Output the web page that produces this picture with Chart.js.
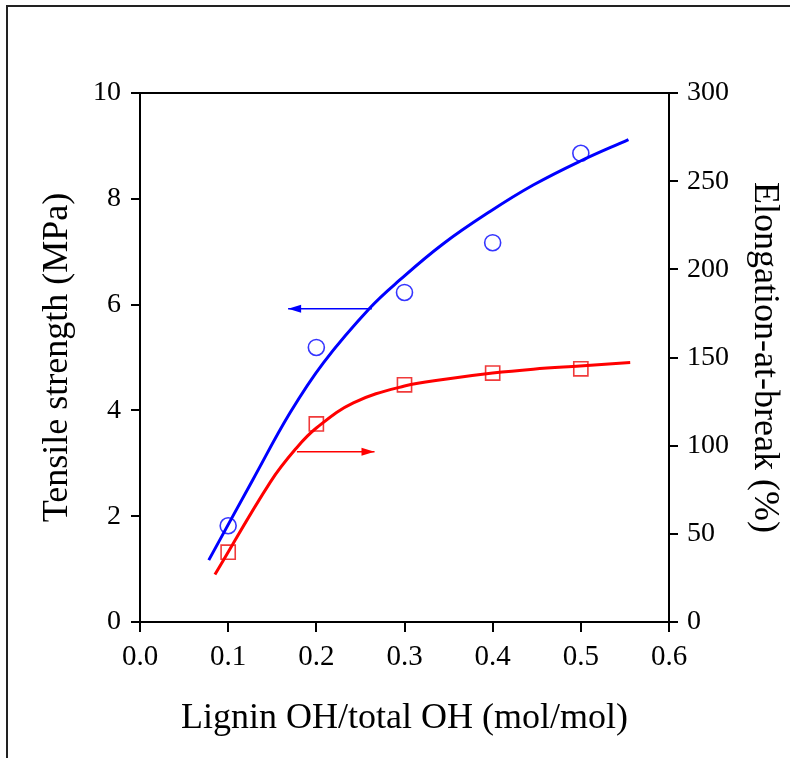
<!DOCTYPE html>
<html>
<head>
<meta charset="utf-8">
<title>Tensile strength and elongation vs lignin OH</title>
<script src="https://cdn.jsdelivr.net/npm/chart.js@4.4.1/dist/chart.umd.min.js"></script>
<style>
  html, body { margin: 0; padding: 0; background: #fff; }
  #wrap { width: 790px; height: 758px; }
</style>
</head>
<body>
<div id="wrap"><canvas id="strengthChart" width="790" height="758"></canvas></div>
<script>
// measured samples
const ratio = [0.1, 0.2, 0.3, 0.4, 0.5];
const tensile = [1.82, 5.19, 6.23, 7.17, 8.86];
const elongation = [39.6, 112.3, 134.5, 141.2, 143.6];

// fitted curves
const tensileFitX = [0.078, 0.128, 0.170, 0.208, 0.261, 0.295, 0.344, 0.397, 0.446, 0.499, 0.554];
const tensileFitY = [1.17, 2.69, 3.95, 4.90, 5.94, 6.47, 7.15, 7.76, 8.26, 8.71, 9.12];
const elongFitX = [0.085, 0.148, 0.178, 0.200, 0.242, 0.300, 0.348, 0.400, 0.446, 0.499, 0.556];
const elongFitY = [26.9, 79.5, 99.0, 110.0, 124.3, 133.8, 137.8, 141.2, 143.4, 145.2, 147.1];

// arrows pointing to each curve's axis
const tensileArrowX = [0.263, 0.168];
const tensileArrowY = [5.92, 5.92];
const elongArrowX = [0.178, 0.266];
const elongArrowY = [96.5, 96.5];

const xTicks = [0, 0.1, 0.2, 0.3, 0.4, 0.5, 0.6];
const leftTicks = [0, 2, 4, 6, 8, 10];
const rightTicks = [0, 50, 100, 150, 200, 250, 300];

const BLUE = "#0000ff";
const RED = "#ff0000";
const SERIF = "'Liberation Serif', 'Times New Roman', serif";

const pts = (xs, ys) => xs.map((x, i) => ({ x: x, y: ys[i] }));

// page frame, white background and top border of the plot box
const framePlugin = {
  id: "frame",
  beforeDraw(chart) {
    const ctx = chart.ctx;
    ctx.save();
    ctx.fillStyle = "#fff";
    ctx.fillRect(0, 0, chart.width, chart.height);
    ctx.strokeStyle = "#222";
    ctx.lineWidth = 2;
    ctx.beginPath();
    ctx.moveTo(7, chart.height);
    ctx.lineTo(7, 6);
    ctx.lineTo(chart.width, 6);
    ctx.stroke();
    ctx.restore();
  },
  afterDraw(chart) {
    const a = chart.chartArea;
    const ctx = chart.ctx;
    ctx.save();
    ctx.strokeStyle = "#000";
    ctx.lineWidth = 2;
    ctx.beginPath();
    ctx.moveTo(a.left - 1, a.top);
    ctx.lineTo(a.right + 1, a.top);
    ctx.stroke();
    ctx.restore();
  }
};

// arrow heads at the last point of the arrow datasets
const arrowPlugin = {
  id: "arrowHeads",
  afterDatasetsDraw(chart) {
    const ctx = chart.ctx;
    chart.data.datasets.forEach((ds, i) => {
      if (!ds.arrow) return;
      const els = chart.getDatasetMeta(i).data;
      const tip = els[els.length - 1];
      const from = els[els.length - 2];
      const ang = Math.atan2(tip.y - from.y, tip.x - from.x);
      ctx.save();
      ctx.translate(tip.x, tip.y);
      ctx.rotate(ang);
      ctx.fillStyle = ds.borderColor;
      ctx.beginPath();
      ctx.moveTo(0, 0);
      ctx.lineTo(-13, -4);
      ctx.lineTo(-13, 4);
      ctx.closePath();
      ctx.fill();
      ctx.restore();
    });
  }
};

const tickSetter = values => scale => {
  scale.ticks = values.map(v => ({ value: v }));
};

new Chart(document.getElementById("strengthChart"), {
  type: "scatter",
  data: {
    datasets: [
      {
        label: "Tensile fit",
        data: pts(tensileFitX, tensileFitY),
        showLine: true,
        borderColor: BLUE,
        borderWidth: 3,
        pointRadius: 0,
        tension: 0.4,
        yAxisID: "y"
      },
      {
        label: "Elongation fit",
        data: pts(elongFitX, elongFitY),
        showLine: true,
        borderColor: RED,
        borderWidth: 3,
        pointRadius: 0,
        tension: 0.4,
        yAxisID: "y1"
      },
      {
        label: "Tensile strength",
        data: pts(ratio, tensile),
        pointStyle: "circle",
        pointRadius: 8,
        borderColor: "#3535ff",
        borderWidth: 1.6,
        backgroundColor: "rgba(0,0,0,0)",
        yAxisID: "y"
      },
      {
        label: "Elongation-at-break",
        data: pts(ratio, elongation),
        pointStyle: "rect",
        pointRadius: 10,
        borderColor: "#f03a3a",
        borderWidth: 1.6,
        backgroundColor: "rgba(0,0,0,0)",
        yAxisID: "y1"
      },
      {
        label: "arrow left",
        data: pts(tensileArrowX, tensileArrowY),
        showLine: true,
        arrow: true,
        borderColor: BLUE,
        borderWidth: 1.5,
        pointRadius: 0,
        yAxisID: "y"
      },
      {
        label: "arrow right",
        data: pts(elongArrowX, elongArrowY),
        showLine: true,
        arrow: true,
        borderColor: RED,
        borderWidth: 1.5,
        pointRadius: 0,
        yAxisID: "y1"
      }
    ]
  },
  options: {
    responsive: false,
    animation: false,
    layout: { padding: { top: 93, left: 0, right: 0, bottom: 0 } },
    plugins: {
      legend: { display: false },
      tooltip: { enabled: false }
    },
    scales: {
      x: {
        type: "linear",
        position: "bottom",
        min: 0,
        max: 0.6,
        afterBuildTicks: tickSetter(xTicks),
        afterFit: s => { s.height = 136; },
        grid: { drawOnChartArea: false, color: "#000", lineWidth: 2, tickLength: 10 },
        border: { color: "#000", width: 2 },
        ticks: {
          color: "#000",
          padding: 8,
          maxRotation: 0,
          font: { family: SERIF, size: 29 },
          callback: v => v.toFixed(1)
        },
        title: {
          display: true,
          text: "Lignin OH/total OH (mol/mol)",
          color: "#000",
          font: { family: SERIF, size: 36 },
          padding: { top: 0, bottom: 18 }
        }
      },
      y: {
        type: "linear",
        position: "left",
        min: 0,
        max: 10,
        afterBuildTicks: tickSetter(leftTicks),
        afterFit: s => { s.width = 140; },
        grid: { drawOnChartArea: false, color: "#000", lineWidth: 2, tickLength: 9 },
        border: { color: "#000", width: 2 },
        ticks: {
          color: "#000",
          padding: 10,
          font: { family: SERIF, size: 28 }
        },
        title: {
          display: true,
          text: "Tensile strength (MPa)",
          color: "#000",
          font: { family: SERIF, size: 36 },
          padding: { top: 36, bottom: 0 }
        }
      },
      y1: {
        type: "linear",
        position: "right",
        min: 0,
        max: 300,
        afterBuildTicks: tickSetter(rightTicks),
        afterFit: s => { s.width = 121; },
        grid: { drawOnChartArea: false, color: "#000", lineWidth: 2, tickLength: 9 },
        border: { color: "#000", width: 2 },
        ticks: {
          color: "#000",
          padding: 9,
          font: { family: SERIF, size: 28 }
        },
        title: {
          display: true,
          text: "Elongation-at-break (%)",
          color: "#000",
          font: { family: SERIF, size: 36 },
          padding: { top: 4, bottom: 0 }
        }
      }
    }
  },
  plugins: [framePlugin, arrowPlugin]
});
</script>
</body>
</html>
